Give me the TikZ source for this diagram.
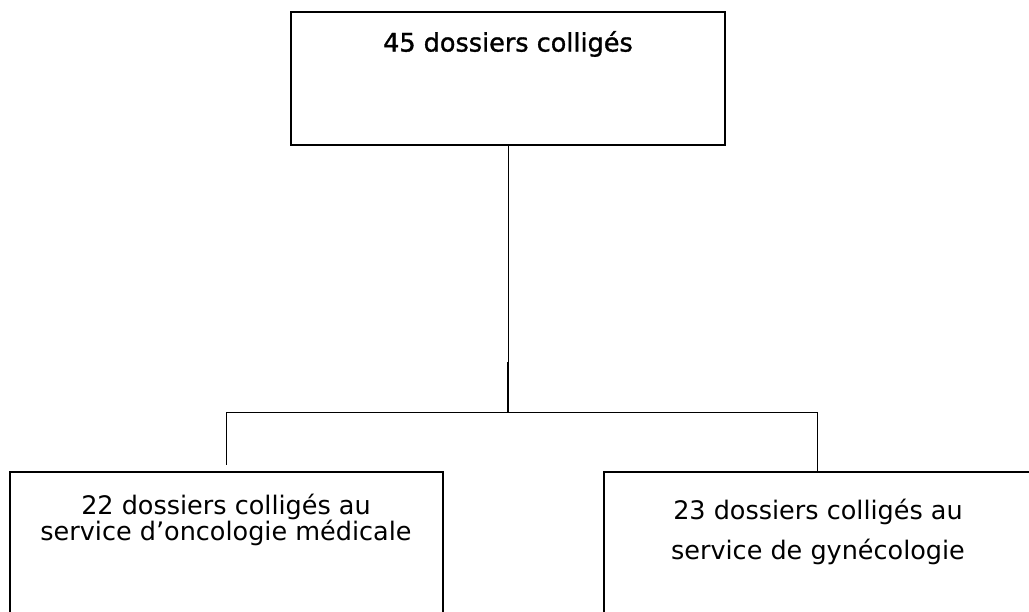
\documentclass[tikz,border=0pt]{standalone}
\usepackage{fontspec}
\setmainfont{DejaVu Sans}
\newfontfamily\topfont{DejaVu Sans}[FakeBold=1.2]
\begin{document}
\begin{tikzpicture}[x=1pt,y=-1pt,
  boxstyle/.style={draw=black,line width=1.6pt,rectangle,inner sep=0pt},
  link/.style={draw=black,line width=0.8pt},
  lbl/.style={align=center,inner sep=0pt}]
\useasboundingbox (0,0) rectangle (1029,611);
\clip (0,0) rectangle (1029,611);
\node[boxstyle,minimum width=434pt,minimum height=133pt] (top) at (508,78.5) {};
\node[lbl,font=\fontsize{25.5}{30}\topfont] (toptext) at (508,44) {45 dossiers colligés};
\node[boxstyle,minimum width=433pt,minimum height=170pt] (lbox) at (226.5,557) {};
\node[lbl,font=\fontsize{25.5}{26}\selectfont] (ltext) at (226,520) {22 dossiers colligés au\\service d’oncologie médicale};
\node[boxstyle,minimum width=426pt,minimum height=170pt] (rbox) at (817,557) {};
\node[lbl,font=\fontsize{25.5}{40}\selectfont] (rtext) at (818,532) {23 dossiers colligés au\\service de gynécologie};
\coordinate (j) at (508,412);
\coordinate (lend) at (226,465);
\draw[link] (top.south) -- (j);
\draw[line width=1.6pt] ([yshift=50pt]j) -- (j);
\draw[link] (j) -| (lend);
\draw[link] (j) -| (rbox.north);
\end{tikzpicture}
\end{document}
